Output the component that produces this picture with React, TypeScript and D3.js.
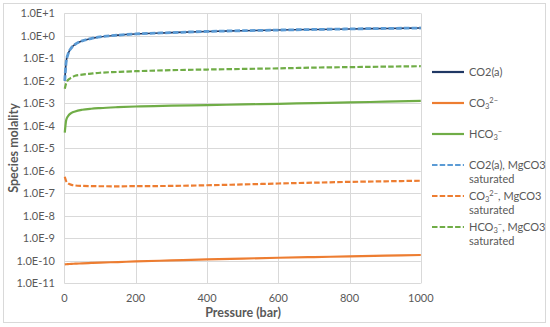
import React from "react";
import * as d3 from "d3";

const pressure = [1, 5, 10, 20, 30, 50, 75, 100, 150, 200, 300, 400, 500, 600, 700, 800, 900, 1000];
const co2 = [0.01, 0.07, 0.15, 0.3, 0.42, 0.6, 0.76, 0.9, 1.08, 1.22, 1.4, 1.58, 1.7, 1.82, 1.93, 2.04, 2.14, 2.25];
const co3 = [7e-11, 7.1e-11, 7.2e-11, 7.4e-11, 7.5e-11, 7.8e-11, 8.1e-11, 8.4e-11, 8.9e-11, 9.5e-11, 1.05e-10, 1.16e-10, 1.27e-10, 1.38e-10, 1.48e-10, 1.58e-10, 1.7e-10, 1.83e-10];
const hco3 = [5e-5, 1.8e-4, 2.7e-4, 3.8e-4, 4.4e-4, 5.2e-4, 5.8e-4, 6.2e-4, 6.8e-4, 7.3e-4, 7.9e-4, 8.4e-4, 9.0e-4, 9.6e-4, 1.03e-3, 1.1e-3, 1.2e-3, 1.3e-3];
const co2Mg = [0.01, 0.07, 0.15, 0.3, 0.42, 0.6, 0.76, 0.9, 1.08, 1.22, 1.4, 1.58, 1.7, 1.82, 1.93, 2.04, 2.14, 2.25];
const co3Mg = [5.5e-7, 3.5e-7, 2.8e-7, 2.4e-7, 2.25e-7, 2.15e-7, 2.1e-7, 2.08e-7, 2.07e-7, 2.1e-7, 2.15e-7, 2.3e-7, 2.5e-7, 2.75e-7, 3.0e-7, 3.25e-7, 3.45e-7, 3.65e-7];
const hco3Mg = [0.0045, 0.008, 0.011, 0.014, 0.017, 0.019, 0.021, 0.023, 0.025, 0.027, 0.03, 0.032, 0.034, 0.036, 0.039, 0.041, 0.043, 0.045];

const xTicks = [0, 200, 400, 600, 800, 1000];
const yTicks = [1e1, 1e0, 1e-1, 1e-2, 1e-3, 1e-4, 1e-5, 1e-6, 1e-7, 1e-8, 1e-9, 1e-10, 1e-11];
const yTickLabels = ["1.0E+1", "1.0E+0", "1.0E-1", "1.0E-2", "1.0E-3", "1.0E-4", "1.0E-5", "1.0E-6", "1.0E-7", "1.0E-8", "1.0E-9", "1.0E-10", "1.0E-11"];

const NAVY = "#203864";
const ORANGE = "#ed7d31";
const GREEN = "#70ad47";
const LBLUE = "#5b9bd5";
const DASH = "5.5,2.2";

type Series = { name: string; values: number[]; color: string; dashed: boolean; width: number; sub?: string; sup?: string; base: string; suffix?: string };

const series: Series[] = [
  { name: "CO2(a)", values: co2, color: NAVY, dashed: false, width: 1.6, base: "CO2(a)" },
  { name: "CO3 2-", values: co3, color: ORANGE, dashed: false, width: 2.2, base: "CO", sub: "3", sup: "2−" },
  { name: "HCO3 -", values: hco3, color: GREEN, dashed: false, width: 2.2, base: "HCO", sub: "3", sup: "−" },
  { name: "CO2(a), MgCO3 saturated", values: co2Mg, color: LBLUE, dashed: true, width: 2.8, base: "CO2(a)", suffix: ", MgCO3" },
  { name: "CO3 2-, MgCO3 saturated", values: co3Mg, color: ORANGE, dashed: true, width: 2.2, base: "CO", sub: "3", sup: "2−", suffix: ", MgCO3" },
  { name: "HCO3 -, MgCO3 saturated", values: hco3Mg, color: GREEN, dashed: true, width: 2.2, base: "HCO", sub: "3", sup: "−", suffix: ", MgCO3" },
];

const legendY = [72, 103, 134, 165, 196, 227];

export default function App() {
  const W = 550, H = 327;
  const x = d3.scaleLinear().domain([0, 1000]).range([64.4, 420.8]);
  const y = d3.scaleLog().domain([1e-11, 1e1]).range([283.4, 13.4]);
  const line = d3.line<number>().x((_, i) => x(pressure[i])).y((v) => y(v)).curve(d3.curveMonotoneX);
  const font = "Lato, 'Open Sans', sans-serif";
  const drawOrder = [0, 3, 1, 4, 2, 5];

  return (
    <svg width={W} height={H} style={{ position: "absolute", left: 0, top: 0, background: "#fff" }} fontFamily={font}>
      <rect x={3.5} y={3.5} width={542} height={319} fill="#fff" stroke="#d9d9d9" strokeWidth={1} />
      {yTicks.map((t) => (
        <line key={"gy" + t} x1={x(0)} x2={x(1000)} y1={Math.round(y(t)) + 0.5} y2={Math.round(y(t)) + 0.5} stroke="#d9d9d9" strokeWidth={1} />
      ))}
      {xTicks.map((t) => (
        <line key={"gx" + t} x1={Math.round(x(t)) + 0.5} x2={Math.round(x(t)) + 0.5} y1={y(1e1)} y2={y(1e-11)} stroke="#d9d9d9" strokeWidth={1} />
      ))}
      {yTicks.map((t, i) => (
        <text key={"ty" + t} x={55} y={y(t)} dy="0.35em" textAnchor="end" fontSize={11} fill="#595959">
          {yTickLabels[i]}
        </text>
      ))}
      {xTicks.map((t) => (
        <text key={"tx" + t} x={x(t)} y={298} dy="0.35em" textAnchor="middle" fontSize={11} fill="#595959">
          {t}
        </text>
      ))}
      <text x={243} y={313} dy="0.35em" textAnchor="middle" fontSize={12.5} fontWeight="bold" fill="#595959">
        Pressure (bar)
      </text>
      <text transform="translate(14,148) rotate(-90)" dy="0.35em" textAnchor="middle" fontSize={12.5} fontWeight="bold" fill="#595959">
        Species molality
      </text>
      {drawOrder.map((i) => {
        const s = series[i];
        return (
          <path key={s.name} d={line(s.values) || ""} fill="none" stroke={s.color} strokeWidth={s.width}
            strokeDasharray={s.dashed ? DASH : undefined} strokeLinejoin="round" />
        );
      })}
      {series.map((s, i) => {
        const ly = legendY[i];
        return (
          <g key={"lg" + s.name}>
            <line x1={432} x2={464} y1={ly} y2={ly} stroke={s.color} strokeWidth={2.2} strokeDasharray={s.dashed ? DASH : undefined} />
            <text x={469} y={ly} dy="0.35em" fontSize={11} fill="#595959">
              <tspan>{s.base}</tspan>
              {s.sub && <tspan dy="2.5" fontSize={7.5}>{s.sub}</tspan>}
              {s.sup && <tspan dy="-6" fontSize={7.5}>{s.sup}</tspan>}
              {s.sub && <tspan dy="3.5">{s.suffix || ""}</tspan>}
              {!s.sub && s.suffix && <tspan>{s.suffix}</tspan>}
            </text>
            {s.dashed && (
              <text x={469} y={ly + 14} dy="0.35em" fontSize={11} fill="#595959">saturated</text>
            )}
          </g>
        );
      })}
    </svg>
  );
}
